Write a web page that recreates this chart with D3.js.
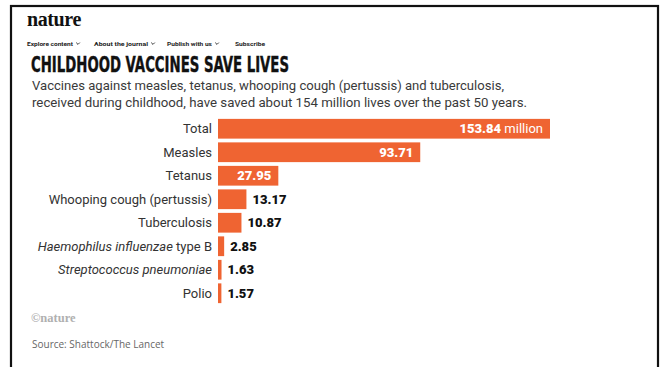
<!DOCTYPE html>
<html><head><meta charset="utf-8">
<script src="https://cdn.jsdelivr.net/npm/d3@7"></script>
<style>
html,body{margin:0;padding:0;background:#fff;}
svg{display:block;}
</style></head>
<body>
<svg id="chart" width="669" height="367"></svg>
<script>
const categories = ["Total","Measles","Tetanus","Whooping cough (pertussis)","Tuberculosis","Haemophilus influenzae type B","Streptococcus pneumoniae","Polio"];
const values = [153.84, 93.71, 27.95, 13.17, 10.87, 2.85, 1.63, 1.57];
const valueLabels = ["153.84","93.71","27.95","13.17","10.87","2.85","1.63","1.57"];
const navItems = ["Explore content","About the journal","Publish with us","Subscribe"];
const navChevron = [true, true, true, false];

const svg = d3.select("#chart");
const sans = "Roboto, 'Noto Sans', 'Liberation Sans', sans-serif";

// frame
svg.append("rect").attr("x",11).attr("y",6).attr("width",647).attr("height",380)
  .attr("fill","none").attr("stroke","#111").attr("stroke-width",2.2);

// nature logo
svg.append("text").attr("x",27).attr("y",26).text("nature")
  .attr("font-family","'Liberation Serif','DejaVu Serif',serif").attr("font-weight","bold")
  .attr("font-size",20).attr("fill","#111").attr("letter-spacing",-0.4);

// nav
const navX = [27, 94, 167, 235];
const navW = [46, 54, 45, 30];
navItems.forEach((d,i)=>{
  svg.append("text").attr("x",navX[i]).attr("y",46).text(d)
    .attr("font-family",sans).attr("font-weight","bold").attr("font-size",6.2).attr("fill","#222")
    .attr("textLength",navW[i]).attr("lengthAdjust","spacingAndGlyphs");
  if (navChevron[i]) {
    const cx = navX[i]+navW[i]+5;
    svg.append("path").attr("d",`M${cx-1.8},42.6 L${cx},44.4 L${cx+1.8},42.6`)
      .attr("fill","none").attr("stroke","#222").attr("stroke-width",0.9);
  }
});

// title
svg.append("text").attr("x",31).attr("y",72).text("CHILDHOOD VACCINES SAVE LIVES")
  .attr("font-family","'Liberation Sans Narrow','DejaVu Sans Condensed','Roboto Condensed',sans-serif")
  .attr("font-weight","bold").attr("font-size",22).attr("fill","#111")
  .attr("stroke","#111").attr("stroke-width",0.4)
  .attr("textLength",258).attr("lengthAdjust","spacingAndGlyphs");

// subtitle
const sub = ["Vaccines against measles, tetanus, whooping cough (pertussis) and tuberculosis,",
             "received during childhood, have saved about 154 million lives over the past 50 years."];
const subW = [472, 495];
svg.selectAll("text.sub").data(sub).join("text").attr("class","sub")
  .attr("x",32).attr("y",(d,i)=>89.5+i*17).text(d=>d)
  .attr("font-family",sans).attr("font-size",13.5).attr("fill","#3a3a3a")
  .attr("textLength",(d,i)=>subW[i]).attr("lengthAdjust","spacingAndGlyphs");

// scales
const x = d3.scaleLinear().domain([0, 153.84]).range([218, 550]);
const y = d3.scaleBand().domain(categories).range([117, 305]).paddingInner(0.16).paddingOuter(0.08);

const data = categories.map((c,i)=>({c, v: values[i], lab: valueLabels[i], i}));

svg.selectAll("rect.bar").data(data).join("rect").attr("class","bar")
  .attr("x",x(0)).attr("y",d=>y(d.c)).attr("width",d=>x(d.v)-x(0)).attr("height",y.bandwidth())
  .attr("fill","#ef6432");

// category labels (with italics for species names)
const italicPart = {"Haemophilus influenzae type B": ["Haemophilus influenzae"," type B"],
                    "Streptococcus pneumoniae": ["Streptococcus pneumoniae",""]};
data.forEach(d=>{
  const t = svg.append("text").attr("x",212).attr("y",y(d.c)+y.bandwidth()/2).attr("dy","0.35em")
    .attr("text-anchor","end").attr("font-family",sans).attr("font-size",13).attr("fill","#333");
  if (italicPart[d.c]) {
    t.append("tspan").attr("font-style","italic").text(italicPart[d.c][0]);
    if (italicPart[d.c][1]) t.append("tspan").text(italicPart[d.c][1]);
  } else t.text(d.c);
});

// value labels
data.forEach(d=>{
  const inside = d.v >= 20;
  const t = svg.append("text").attr("y",y(d.c)+y.bandwidth()/2).attr("dy","0.36em")
    .attr("font-family",sans).attr("font-size",13).attr("font-weight",900)
    .attr("fill", inside ? "#fff" : "#111");
  if (inside) {
    t.attr("x", x(d.v)-7).attr("text-anchor","end");
    t.append("tspan").text(d.lab);
    if (d.i===0) t.append("tspan").attr("font-weight","normal").text(" million");
  } else {
    t.attr("x", x(d.v)+6).text(d.lab);
  }
});

// footer
svg.append("text").attr("x",31).attr("y",322).text("\u00A9nature")
  .attr("font-family","'Liberation Serif','DejaVu Serif',serif").attr("font-weight","bold")
  .attr("font-size",12.5).attr("fill","#b0b0b0");
svg.append("text").attr("x",32).attr("y",348).text("Source: Shattock/The Lancet")
  .attr("font-family","'Open Sans','Noto Sans',sans-serif").attr("font-size",10).attr("fill","#666");
</script>
</body></html>
